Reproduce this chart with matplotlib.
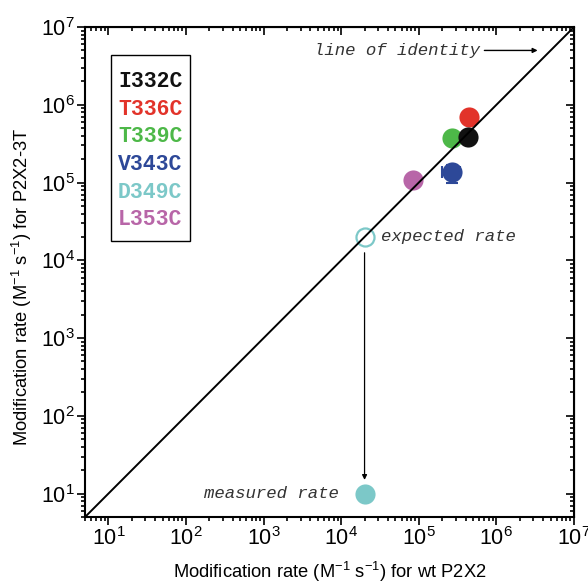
import matplotlib
matplotlib.use("Agg")
import matplotlib.pyplot as plt
from matplotlib.patches import Rectangle

plt.rcParams['font.family'] = ['Liberation Sans', 'DejaVu Sans']
plt.rcParams['mathtext.fontset'] = 'custom'
plt.rcParams['mathtext.rm'] = 'Liberation Sans'
plt.rcParams['mathtext.it'] = 'Liberation Sans:italic'

# data
mutants = ['I332C', 'T336C', 'T339C', 'V343C', 'D349C', 'L353C']
colors = ['#111111', '#e2332a', '#4db848', '#2d4898', '#7cc8c8', '#b866a8']
wt_rate = [4.3e5, 4.5e5, 2.7e5, 2.7e5, 2.0e4, 8.5e4]
mut_rate = [3.8e5, 6.9e5, 3.7e5, 1.35e5, 10, 1.07e5]
wt_err = [0, 0, 0, 0.7e5, 0, 0]
mut_err = [0, 0, 0, 0.35e5, 0, 0]
expected_x = 2.0e4
expected_y = 2.0e4
lim = (5, 1e7)

fig = plt.figure(figsize=(5.88, 5.85), dpi=100)
ax = fig.add_axes([0.1446, 0.1162, 0.8316, 0.8376])
ax.set_xscale('log')
ax.set_yscale('log')
ax.set_xlim(lim)
ax.set_ylim(lim)

# identity line
ax.plot(lim, lim, color='black', lw=1.4, zorder=4)

draw_order = [5, 3, 2, 1, 0, 4]
for i in draw_order:
    if wt_err[i] or mut_err[i]:
        ax.errorbar(wt_rate[i], mut_rate[i], xerr=wt_err[i], yerr=mut_err[i],
                    fmt='none', ecolor=colors[i], elinewidth=1.5, capsize=4,
                    capthick=1.5, zorder=2)
    ax.plot(wt_rate[i], mut_rate[i], 'o', ms=14.5, color=colors[i],
            mec='none', zorder=3)

# expected rate for D349C
ax.plot(expected_x, expected_y, 'o', ms=13, mfc='none', mec=colors[4],
        mew=1.6, zorder=3)

mono = dict(family=['Liberation Mono', 'DejaVu Sans Mono'], style='italic',
            color='#333333', fontsize=12.5)
ax.text(3.3e4, expected_y, 'expected rate', va='center', ha='left', **mono)
ax.text(9.3e3, 10, 'measured rate', va='center', ha='right', **mono)
ax.text(6.2e5, 5.0e6, 'line of identity', va='center', ha='right', **mono)
ax.annotate('', xy=(3.4e6, 5.0e6), xytext=(7.0e5, 5.0e6),
            arrowprops=dict(arrowstyle='-|>', color='black', lw=1.0,
                            mutation_scale=7, shrinkA=0, shrinkB=0))
ax.annotate('', xy=(expected_x, 15), xytext=(expected_x, 1.25e4),
            arrowprops=dict(arrowstyle='-|>', color='black', lw=0.9,
                            mutation_scale=7, shrinkA=0, shrinkB=0))

# legend box
ax.add_patch(Rectangle((0.053, 0.563), 0.162, 0.38, transform=ax.transAxes,
                       fill=False, ec='black', lw=1.0, zorder=5))
for k, (name, c) in enumerate(zip(mutants, colors)):
    ax.text(0.0675, 0.889 - k * 0.0565, name, transform=ax.transAxes,
            color=c, fontsize=15.5, fontweight='bold', va='center', ha='left',
            family=['Liberation Mono', 'DejaVu Sans Mono'], zorder=6)

for s in ax.spines.values():
    s.set_linewidth(1.5)
ax.tick_params(which='both', direction='out', top=False, right=False,
               labelsize=15.5, width=1.2, pad=1.5)
ax.tick_params(which='major', length=6)
ax.tick_params(which='minor', length=3)

top = ax.secondary_xaxis('top')
right = ax.secondary_yaxis('right')
for a in (top, right):
    a.tick_params(which='both', direction='in', labelleft=False,
                  labelright=False, labeltop=False, labelbottom=False, width=1.2)
    a.tick_params(which='major', length=6)
    a.tick_params(which='minor', length=3)

ax.set_xlabel(r'Modification rate (M$^{\mathdefault{-1}}$ s$^{\mathdefault{-1}}$) for wt P2X2',
              fontsize=13.2, labelpad=7)
ax.set_ylabel(r'Modification rate (M$^{\mathdefault{-1}}$ s$^{\mathdefault{-1}}$) for P2X2-3T',
              fontsize=13.2)
ax.yaxis.set_label_coords(-0.105, 0.47)

fig.savefig('out.png', dpi=100)
